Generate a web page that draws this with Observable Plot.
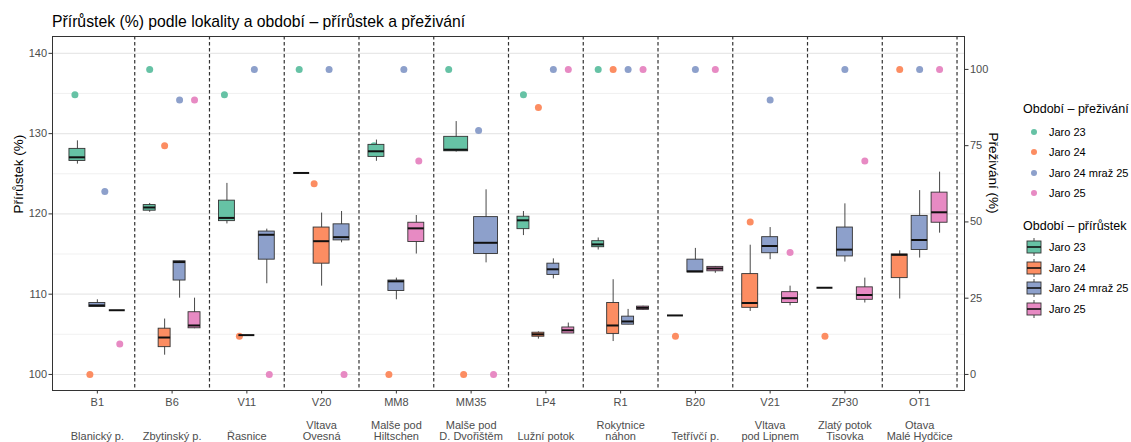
<!DOCTYPE html>
<html><head><meta charset="utf-8">
<script src="https://cdn.jsdelivr.net/npm/d3@7"></script>
<script src="https://cdn.jsdelivr.net/npm/@observablehq/plot@0.6"></script>
<style>
body{margin:0;background:#fff;font-family:"Liberation Sans",Arial,sans-serif;}
#wrap{position:relative;width:1131px;height:442px;overflow:hidden;background:#fff;}
#title{position:absolute;left:52px;top:13px;font-size:15.75px;color:#000;white-space:nowrap;line-height:18px;}
#chart{position:absolute;left:0;top:30px;}
.lg{position:absolute;white-space:nowrap;color:#000;}
.lgt{font-size:12.5px;line-height:16px;}
.lgi{font-size:11px;line-height:14px;}
</style></head><body>
<div id="wrap">
  <div id="title">Přírůstek (%) podle lokality a období – přírůstek a přeživání</div>
  <div id="chart"></div>
  <div id="legend"></div>
</div>
<script>
// ---- data ----
const siteCodes = ["B1","B6","V11","V20","MM8","MM35","LP4","R1","B20","V21","ZP30","OT1"];
const siteNames = ["Blanický p.","Zbytinský p.","Řasnice","Vltava\nOvesná","Malše pod\nHiltschen","Malše pod\nD. Dvořištěm","Lužní potok","Rokytnice\nnáhon","Tetřívčí p.","Vltava\npod Lipnem","Zlatý potok\nTisovka","Otava\nMalé Hydčice"];
const periods = ["Jaro 23","Jaro 24","Jaro 24 mraž 25","Jaro 25"];
const periodColors = ["#66C2A5","#FC8D62","#8DA0CB","#E78AC3"];

// survival (%) per site, null = missing
const survJaro23      = [91.7, 100, 91.7, 100, 75, 100, 91.7, 100, null, null, null, null];
const survJaro24      = [0, 75, 12.5, 62.5, 0, 0, 87.5, 100, 12.5, 50, 12.5, 100];
const survJaro24mraz  = [60, 90, 100, 100, 100, 80, 100, 100, 100, 90, 100, 100];
const survJaro25      = [10, 90, 0, 0, 70, 0, 100, 100, 100, 40, 70, 100];

// growth (%) box summaries per site: [whisker low, q1, median, q3, whisker high]
const boxJaro23 = [
  [126.2,126.6,127.05,128.1,129.1],[120.2,120.4,120.8,121.1,121.3],[118.75,119.1,119.5,121.65,123.8],
  [125.1,125.1,125.1,125.1,125.1],[126.55,127.1,127.8,128.6,129.2],[127.7,127.8,128.0,129.6,131.5],
  [117.3,118.1,119.2,119.65,120.3],[115.5,115.85,116.2,116.6,117.0],null,null,null,null];
const boxJaro24 = [
  null,[102.4,103.4,104.6,105.7,106.9],[104.9,104.9,104.9,104.9,104.9],
  [111.0,113.8,116.6,118.3,120.1],null,null,
  [104.4,104.7,105.0,105.2,105.3],[104.1,105.05,106.1,108.9,111.8],[107.35,107.35,107.35,107.35,107.35],
  [107.85,108.3,108.9,112.5,116.1],[110.8,110.8,110.8,110.8,110.8],[109.4,112.0,114.9,114.95,115.4]];
const boxJaro24mraz = [
  [108.4,108.4,108.6,108.9,109.3],[109.5,111.7,114.0,114.1,114.1],[111.3,114.3,117.4,117.8,118.1],
  [116.4,116.7,117.1,118.7,120.3],[109.3,110.4,111.6,111.7,112.0],[113.9,115.0,116.4,119.6,123.0],
  [111.9,112.4,113.1,113.8,114.4],[106.2,106.2,106.6,107.2,108.1],[112.7,112.7,112.85,114.3,115.7],
  [114.3,115.1,116.0,117.1,118.3],[114.0,114.7,115.55,118.3,121.25],[114.5,115.5,116.75,119.75,122.9]];
const boxJaro25 = [
  [108.0,108.0,108.0,108.0,108.0],[105.7,105.75,106.1,107.75,109.5],null,null,
  [115.0,116.5,118.2,118.9,119.8],null,[105.1,105.1,105.5,105.85,106.4],[108.0,108.05,108.3,108.45,108.5],
  [112.6,112.85,113.2,113.4,113.45],[108.55,108.9,109.5,110.25,111.0],[108.9,109.3,109.9,110.85,112.0],
  [117.6,118.9,120.2,122.65,125.2]];

const growthTicks = [100,110,120,130,140];
const growthMinor = [105,115,125,135];
const survTicks = [0,25,50,75,100];
const survToGrowth = 0.38; // secondary axis: growth = 100 + survival * 0.38

// ---- build tables (dodged within each site like ggplot) ----
const survBy = [survJaro23, survJaro24, survJaro24mraz, survJaro25];
const boxBy = [boxJaro23, boxJaro24, boxJaro24mraz, boxJaro25];
const DODGE = 0.8;
function dodge(present) {
  const n = present.length;
  return present.map((p, k) => ({p, off: (k - (n - 1) / 2) * DODGE / n, w: 0.8 * DODGE / n}));
}
const points = [], boxes = [];
siteCodes.forEach((code, i) => {
  const pp = periods.map((p, j) => j).filter(j => survBy[j][i] != null);
  dodge(pp).forEach(({p, off}) => points.push({site: code, period: periods[p], x: i + 1 + off, y: 100 + survBy[p][i] * survToGrowth}));
  const bp = periods.map((p, j) => j).filter(j => boxBy[j][i] != null);
  dodge(bp).forEach(({p, off, w}) => {
    const [lo, q1, med, q3, hi] = boxBy[p][i];
    boxes.push({site: code, period: periods[p], x: i + 1 + off, x1: i + 1 + off - w / 2, x2: i + 1 + off + w / 2, lo, q1, med, q3, hi});
  });
});
const separators = d3.range(1, siteCodes.length + 1).map(i => i + 0.5);

const plot = Plot.plot({
  width: 1131, height: 412,
  marginTop: 6, marginBottom: 52, marginLeft: 52, marginRight: 167,
  x: {domain: [0.4, siteCodes.length + 0.6], axis: null},
  y: {domain: [98, 142.1], axis: null},
  color: {domain: periods, range: periodColors},
  style: {fontFamily: '"Liberation Sans", Arial, sans-serif', fontSize: "11px", color: "#4d4d4d", background: "#fff", overflow: "visible"},
  marks: [
    Plot.gridY(growthMinor, {stroke: "#eeeeee", strokeOpacity: 1, strokeWidth: 0.8}),
    Plot.gridY(growthTicks, {stroke: "#e8e8e8", strokeOpacity: 1, strokeWidth: 1.1}),
    Plot.ruleX(separators, {stroke: "#333", strokeWidth: 1.2, strokeDasharray: "3.5,2.5"}),
    Plot.dot(points, {x: "x", y: "y", fill: "period", r: 3.5}),
    Plot.ruleX(boxes, {x: "x", y1: "lo", y2: "hi", stroke: "#333", strokeWidth: 0.9}),
    Plot.rect(boxes, {x1: "x1", x2: "x2", y1: "q1", y2: "q3", fill: "period", stroke: "#333", strokeWidth: 0.9}),
    Plot.ruleY(boxes, {y: "med", x1: "x1", x2: "x2", stroke: "#111", strokeWidth: 2}),
    Plot.frame({stroke: "#333", strokeWidth: 1}),
    Plot.axisY({anchor: "left", ticks: growthTicks, tickSize: 3.5, tickPadding: 2, label: null, stroke: "#333", fontSize: 11}),
    Plot.axisY({anchor: "right", ticks: survTicks.map(s => 100 + s * survToGrowth), tickFormat: d => String(Math.round((d - 100) / survToGrowth)), tickSize: 3.5, tickPadding: 2, label: null, stroke: "#333", fontSize: 11}),
    Plot.axisX({ticks: d3.range(1, siteCodes.length + 1), tickFormat: i => siteCodes[i - 1], tickSize: 3.5, tickPadding: 4, label: null, stroke: "#333", fontSize: 11}),
    Plot.text(siteNames, {x: (d, i) => i + 1, text: d => d, frameAnchor: "bottom", lineAnchor: "bottom", dy: 49, fontSize: 11, fill: "#4d4d4d", lineHeight: 0.95}),
    Plot.text(["Přírůstek (%)"], {frameAnchor: "left", rotate: -90, dx: -34, fontSize: 13.5, fill: "#000"}),
    Plot.text(["Přeživání (%)"], {frameAnchor: "right", rotate: 90, dx: 29, fontSize: 13.5, fill: "#000"})
  ]
});
document.getElementById("chart").appendChild(plot);

// ---- legend (HTML) ----
const legend = document.getElementById("legend");
function add(html, left, top, cls) {
  const d = document.createElement("div");
  d.className = "lg " + cls;
  d.style.left = left + "px"; d.style.top = top + "px";
  d.innerHTML = html;
  legend.appendChild(d);
}
add("Období – přeživání", 1023, 101, "lgt");
periods.forEach((p, j) => {
  const cy = 132 + j * 20.4;
  add(`<svg width="10" height="10" style="display:block"><circle cx="5" cy="5" r="3" fill="${periodColors[j]}"/></svg>`, 1029, cy - 5, "");
  add(p, 1049, cy - 7, "lgi");
});
add("Období – přírůstek", 1023, 218, "lgt");
periods.forEach((p, j) => {
  const cy = 247 + j * 20.7;
  add(`<svg width="16" height="18" style="display:block"><line x1="8" x2="8" y1="0" y2="18" stroke="#333" stroke-width="0.9"/><rect x="1" y="3" width="14" height="12" fill="${periodColors[j]}" stroke="#333" stroke-width="0.9"/><line x1="1" x2="15" y1="9" y2="9" stroke="#111" stroke-width="1.6"/></svg>`, 1026, cy - 9, "");
  add(p, 1049, cy - 7, "lgi");
});
</script>
</body></html>
